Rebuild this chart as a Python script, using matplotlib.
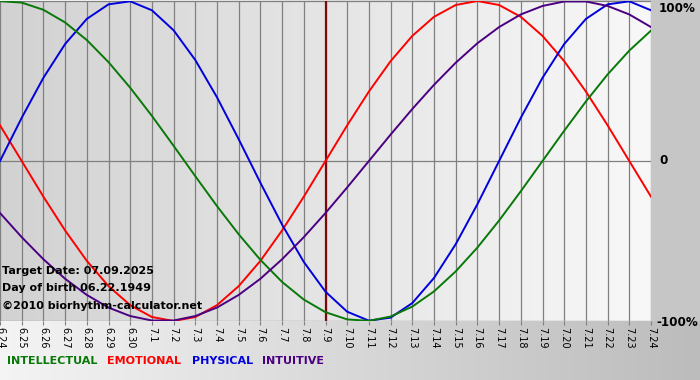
import numpy as np
import matplotlib
matplotlib.use("Agg")
import matplotlib.pyplot as plt
from matplotlib.colors import LinearSegmentedColormap

# days shown on the axis (6.24 .. 7.24)
days = ["6.24", "6.25", "6.26", "6.27", "6.28", "6.29", "6.30",
        "7.1", "7.2", "7.3", "7.4", "7.5", "7.6", "7.7", "7.8", "7.9",
        "7.10", "7.11", "7.12", "7.13", "7.14", "7.15", "7.16", "7.17",
        "7.18", "7.19", "7.20", "7.21", "7.22", "7.23", "7.24"]
target_day = "7.9"

# values per day (-1 .. 1)
intellectual = [0.999, 0.990, 0.945, 0.866, 0.756, 0.618, 0.458, 0.282, 0.095,
                -0.095, -0.282, -0.458, -0.618, -0.756, -0.866, -0.945, -0.990,
                -0.999, -0.972, -0.910, -0.815, -0.690, -0.541, -0.372, -0.189,
                0.000, 0.189, 0.372, 0.541, 0.690, 0.815]
emotional = [0.223, 0.000, -0.223, -0.434, -0.624, -0.782, -0.901, -0.975, -1.000,
             -0.975, -0.901, -0.782, -0.624, -0.434, -0.223, 0.000, 0.223, 0.434,
             0.624, 0.782, 0.901, 0.975, 1.000, 0.975, 0.901, 0.782, 0.624, 0.434,
             0.223, 0.000, -0.223]
physical = [0.000, 0.270, 0.520, 0.731, 0.888, 0.979, 0.998, 0.942, 0.817, 0.631,
            0.398, 0.136, -0.136, -0.398, -0.631, -0.817, -0.942, -0.998, -0.979,
            -0.888, -0.731, -0.520, -0.270, 0.000, 0.270, 0.520, 0.731, 0.888,
            0.979, 0.998, 0.942]
intuitive = [-0.325, -0.476, -0.614, -0.736, -0.837, -0.916, -0.969, -0.997, -0.997,
             -0.969, -0.916, -0.837, -0.736, -0.614, -0.476, -0.325, -0.165, 0.000,
             0.165, 0.325, 0.476, 0.614, 0.736, 0.837, 0.916, 0.969, 0.997, 0.997,
             0.969, 0.916, 0.837]

W, H = 700, 380
fig = plt.figure(figsize=(W / 100, H / 100), dpi=100)

# figure background gradient
bg = fig.add_axes([0, 0, 1, 1], zorder=-10)
bg.set_xlim(0, 1)
bg.set_ylim(0, 1)
bg.axis("off")
cm_bg = LinearSegmentedColormap.from_list("bg", ["#f4f4f4", "#bcbcbc"])
bg.imshow(np.linspace(0, 1, 256).reshape(1, -1), cmap=cm_bg, aspect="auto",
          extent=[0, 1, 0, 1])
bg.fill_between([651 / W, 1], 59 / H, 1, color="#c6c6c6", lw=0)

ax = fig.add_axes([0, 59 / H, 651 / W, 320 / H])
x = np.arange(len(days))
cm_plot = LinearSegmentedColormap.from_list("pl", ["#d2d2d2", "#f8f8f8"])
ax.imshow(np.linspace(0, 1, 256).reshape(1, -1), cmap=cm_plot, aspect="auto",
          extent=[0, len(days) - 1, -1, 1], zorder=0)

for xi in x:
    ax.axvline(xi, color="#808080", lw=0.9, zorder=1)
for yv in (-1, 0, 1):
    ax.axhline(yv, color="#808080", lw=0.9, zorder=1)

ax.axvline(days.index(target_day), color="#7a0a0a", lw=1.6, zorder=2)

ax.plot(x, emotional, color="#ff0000", lw=1.4, zorder=3)
ax.plot(x, physical, color="#0000dd", lw=1.4, zorder=4)
ax.plot(x, intellectual, color="#087808", lw=1.4, zorder=5)
ax.plot(x, intuitive, color="#4b0082", lw=1.4, zorder=6)

ax.set_xlim(0, len(days) - 1)
ax.set_ylim(-1, 1)
ax.set_yticks([])
ax.set_xticks(x)
ax.set_xticklabels(days, rotation=-90, fontsize=7)
ax.tick_params(axis="x", length=3, color="#808080", pad=1)
for s in ax.spines.values():
    s.set_visible(False)

bold = dict(fontweight="bold", fontfamily="DejaVu Sans")
fig.text(659 / W, 1 - 8 / H, "100%", fontsize=8.6, va="center", ha="left", **bold)
fig.text(659 / W, 1 - 161 / H, "0", fontsize=8.6, va="center", ha="left", **bold)
fig.text(656 / W, 1 - 322 / H, "-100%", fontsize=8.6, va="center", ha="left", **bold)

fig.text(2 / W, 1 - 271 / H, "Target Date: 07.09.2025", fontsize=8, va="center", **bold)
fig.text(2 / W, 1 - 288 / H, "Day of birth 06.22.1949", fontsize=8, va="center", **bold)
fig.text(2 / W, 1 - 306 / H, "\u00a92010 biorhythm-calculator.net", fontsize=8,
         va="center", **bold)

legend = [("INTELLECTUAL", "#087808", 7), ("EMOTIONAL", "#ff0000", 107),
          ("PHYSICAL", "#0000dd", 192), ("INTUITIVE", "#4b0082", 262)]
for name, col, px in legend:
    fig.text(px / W, 1 - 361 / H, name, color=col, fontsize=8, va="center", **bold)

fig.savefig("out.png", dpi=100)
